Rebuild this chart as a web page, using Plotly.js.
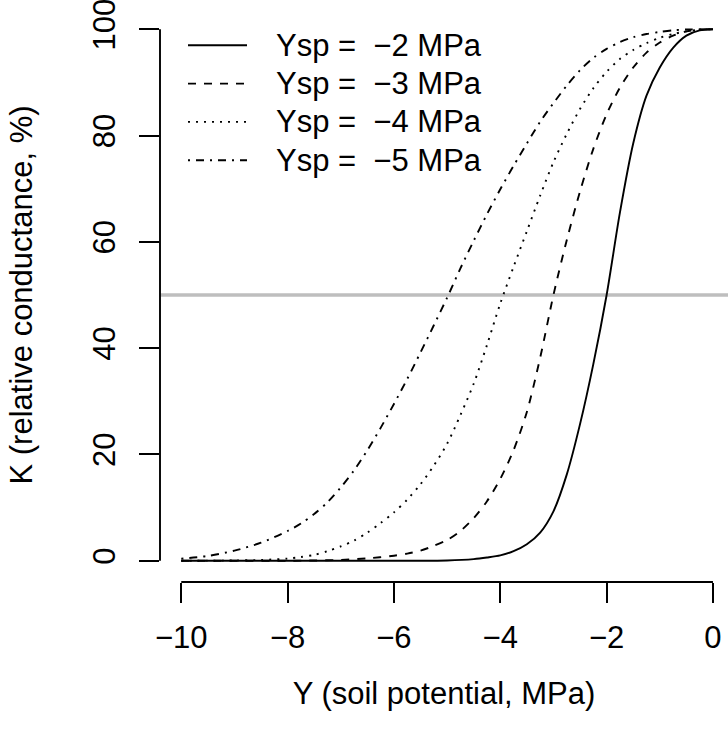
<!DOCTYPE html>
<html>
<head>
<meta charset="utf-8">
<script src="https://cdn.plot.ly/plotly-3.0.1.min.js"></script>
<style>html,body{margin:0;padding:0;background:#fff;}#chart{width:728px;height:738px;}</style>
</head>
<body>
<div id="chart"></div>
<script>
// ---- data ----
const seriesNames = ["Ysp =\u00A0 \u22122 MPa", "Ysp =\u00A0 \u22123 MPa", "Ysp =\u00A0 \u22124 MPa", "Ysp =\u00A0 \u22125 MPa"];

// soil potential (MPa) and relative conductance (%) for each curve
const psi_sp2 = [-10, -8, -6, -5, -4.5, -4.25, -4, -3.75, -3.5, -3.25, -3, -2.75, -2.5, -2.25, -2, -1.75, -1.5, -1.25, -1, -0.75, -0.5, -0.25, 0];
const K_sp2   = [0, 0, 0, 0.05, 0.3, 0.6, 1.0, 1.8, 3.1, 5.3, 9.3, 16.2, 25.7, 37.0, 50.0, 65.5, 78.5, 87.5, 92.8, 96.5, 98.8, 99.8, 100];

const psi_sp3 = [-10, -8, -7.5, -7, -6.5, -6, -5.75, -5.5, -5.25, -5, -4.75, -4.5, -4.25, -4, -3.75, -3.5, -3.25, -3, -2.75, -2.5, -2.25, -2, -1.75, -1.5, -1.25, -1, -0.75, -0.5, -0.25, 0];
const K_sp3   = [0, 0, 0.05, 0.15, 0.45, 0.95, 1.35, 1.9, 2.8, 3.9, 5.6, 8.0, 11.2, 15.4, 20.8, 28.0, 38.2, 50.0, 60.3, 69.5, 77.5, 84.0, 89.0, 92.8, 95.6, 97.5, 98.8, 99.6, 99.95, 100];

const psi_sp4 = [-10, -9, -8.5, -8, -7.75, -7.5, -7.25, -7, -6.75, -6.5, -6.25, -6, -5.75, -5.5, -5.25, -5, -4.75, -4.5, -4.25, -4, -3.75, -3.5, -3.25, -3, -2.75, -2.5, -2.25, -2, -1.75, -1.5, -1.25, -1, -0.75, -0.5, -0.25, 0];
const K_sp4   = [0, 0.05, 0.15, 0.4, 0.7, 1.1, 1.8, 2.7, 3.8, 5.3, 7.1, 9.1, 11.5, 14.4, 17.9, 22.0, 27.4, 33.3, 40.6, 48.4, 55.3, 62.0, 68.7, 75.0, 80.3, 85.0, 88.9, 92.0, 94.4, 96.1, 97.4, 98.4, 99.1, 99.6, 99.9, 100];

const psi_sp5 = [-10, -9.5, -9, -8.5, -8, -7.75, -7.5, -7.25, -7, -6.75, -6.5, -6.25, -6, -5.75, -5.5, -5.25, -5, -4.75, -4.5, -4.25, -4, -3.75, -3.5, -3.25, -3, -2.75, -2.5, -2.25, -2, -1.75, -1.5, -1.25, -1, -0.75, -0.5, 0];
const K_sp5   = [0.4, 0.9, 1.9, 3.4, 5.6, 7.0, 8.8, 11.0, 13.8, 17.0, 20.8, 25.0, 29.5, 34.2, 39.2, 44.3, 49.5, 55.0, 60.2, 65.2, 69.9, 74.3, 78.5, 82.6, 86.1, 89.4, 92.3, 94.6, 96.3, 97.6, 98.5, 99.1, 99.5, 99.8, 99.95, 100];

const refLevel = 50;                       // horizontal reference line (K = 50 %)
const xTickVals = [-10, -8, -6, -4, -2, 0];
const yTickVals = [0, 20, 40, 60, 80, 100];
const xTitle = "Y (soil potential, MPa)";
const yTitle = "K (relative conductance, %)";

// ---- styling ----
const FONT = "'Liberation Sans', Arial, Helvetica, sans-serif";
const FS = 31;
const LW = 1.9;
const dashes = ["solid", "8px,8px", "2px,6px", "2px,6px,8px,6px"];
const xs = [psi_sp2, psi_sp3, psi_sp4, psi_sp5];
const ys = [K_sp2, K_sp3, K_sp4, K_sp5];

const traces = xs.map((x, i) => ({
  type: "scatter", mode: "lines", x: x, y: ys[i], name: seriesNames[i],
  line: {color: "#000000", width: LW, dash: dashes[i], shape: "spline", smoothing: 0.8},
  showlegend: false, hoverinfo: "skip"
}));

// manual R-style legend (no box)
const L = 160, T = 8, W = 568, H = 574;
const px2x = p => (p - L) / W;
const py2y = p => (T + H - p) / H;
const legRows = [45.3, 83.6, 121.9, 160.2];
const shapes = [
  {type: "line", xref: "paper", yref: "y", x0: 0, x1: 1, y0: refLevel, y1: refLevel,
   line: {color: "#BEBEBE", width: 3.6}, layer: "below"},
  {type: "line", xref: "x", yref: "paper", x0: xTickVals[0], x1: xTickVals[xTickVals.length-1], y0: 0, y1: 0,
   line: {color: "#000", width: LW}},
  {type: "line", xref: "paper", yref: "y", x0: 0, x1: 0, y0: yTickVals[0], y1: yTickVals[yTickVals.length-1],
   line: {color: "#000", width: LW}}
];
const annotations = [];
legRows.forEach((r, i) => {
  shapes.push({type: "line", xref: "paper", yref: "paper", x0: px2x(188), x1: px2x(247), y0: py2y(r), y1: py2y(r),
    line: {color: "#000", width: LW, dash: dashes[i]}});
  annotations.push({xref: "paper", yref: "paper", x: px2x(274), y: py2y(r), xanchor: "left", yanchor: "middle",
    text: seriesNames[i], showarrow: false, font: {family: FONT, size: FS, color: "#000"}});
});

const axisCommon = {
  showgrid: false, zeroline: false, showline: false,
  ticks: "outside", ticklen: 20, tickwidth: LW, tickcolor: "#000",
  tickfont: {family: FONT, size: FS, color: "#000"},
  ticklabeloverflow: "allow",
  automargin: false
};

const layout = {
  width: 728, height: 738,
  margin: {l: L, r: 0, t: T, b: 738 - T - H, pad: 0},
  paper_bgcolor: "#fff", plot_bgcolor: "#fff",
  font: {family: FONT, size: FS, color: "#000"},
  xaxis: Object.assign({}, axisCommon, {
    range: [-10.4, 0.283], tickmode: "array", tickvals: xTickVals, ticklabelstandoff: 8,
    title: {text: xTitle, font: {family: FONT, size: FS, color: "#000"}, standoff: 28}
  }),
  yaxis: Object.assign({}, axisCommon, {
    range: [-4, 104], tickmode: "array", tickvals: yTickVals, tickangle: -90, ticklabelstandoff: 12,
    title: {text: yTitle, font: {family: FONT, size: FS, color: "#000"}, standoff: 44}
  }),
  shapes: shapes,
  annotations: annotations,
  showlegend: false
};

Plotly.newPlot("chart", traces, layout, {staticPlot: true, displayModeBar: false});
</script>
</body>
</html>
